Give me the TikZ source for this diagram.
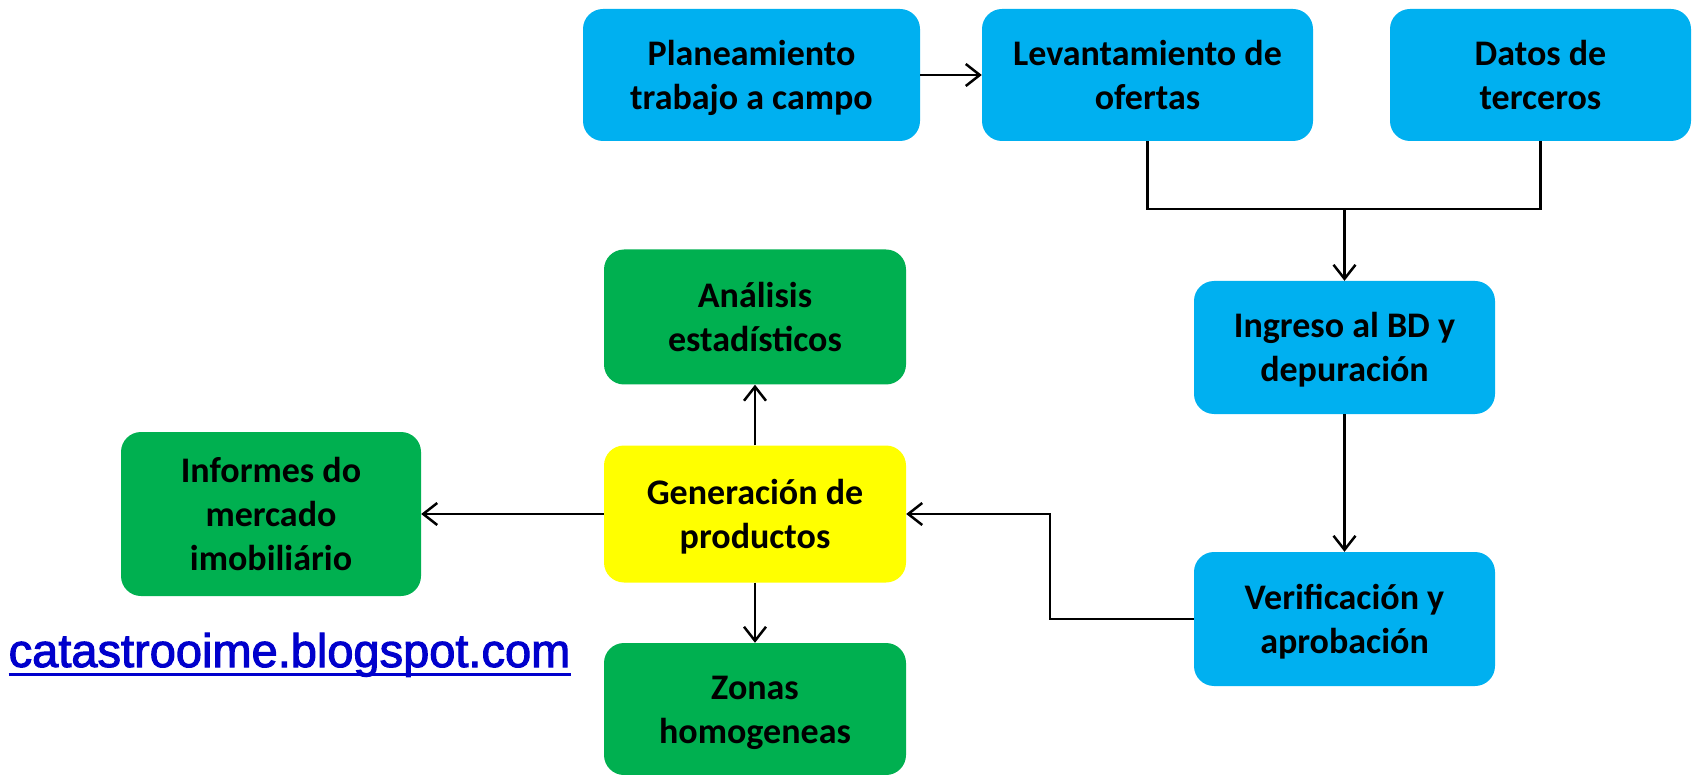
\documentclass[tikz,border=0pt]{standalone}
\usepackage{fontspec}
\setmainfont{Carlito}
\newfontfamily\urlfont[FakeBold=2.2]{Liberation Sans}
\usetikzlibrary{arrows.meta}
\definecolor{boxblue}{HTML}{00B0F0}
\definecolor{boxgreen}{HTML}{00B050}
\definecolor{boxyellow}{HTML}{FFFF00}
\definecolor{urlblue}{HTML}{0000CC}
% line strut: ascent 0.952em, descent 0.269em (Calibri line metrics)
\newcommand\ls{\rule[-9.7pt]{0pt}{44pt}}
\tikzset{
  stepbox/.style={rounded corners=20pt, inner sep=0pt, align=center, text=black,
    font=\bfseries\fontsize{36}{44}\selectfont},
  bluebox/.style={stepbox, fill=boxblue},
  greenbox/.style={stepbox, fill=boxgreen},
  yellowbox/.style={stepbox, fill=boxyellow},
  conn/.style={draw=black, line width=2.5pt},
  arr/.style={conn, -{Straight Barb[length=14pt,width=22pt]}},
}
\begin{document}
\begin{tikzpicture}[x=1pt,y=-1pt]
\useasboundingbox (0,0) rectangle (1692,775);
% top row
\node[bluebox, minimum width=337pt, minimum height=132pt] (plan) at (751.5,75) {\ls Planeamiento\\trabajo a campo\ls};
\node[bluebox, minimum width=331pt, minimum height=132pt] (lev) at (1147.5,75) {\ls Levantamiento de\\ofertas\ls};
\node[bluebox, minimum width=301pt, minimum height=132pt] (datos) at (1540.5,75) {\ls Datos de\\terceros\ls};
% right column
\node[bluebox, minimum width=301pt, minimum height=133pt] (ing) at (1344.5,347.5) {\ls Ingreso al BD y\\depuraci\'on\ls};
\node[bluebox, minimum width=301pt, minimum height=134pt] (ver) at (1344.5,619) {\ls Verificaci\'on y\\aprobaci\'on\ls};
% middle column
\node[greenbox, minimum width=302pt, minimum height=135pt] (anal) at (755,317) {\ls An\'alisis\\estad\'isticos\ls};
\node[yellowbox, minimum width=302pt, minimum height=137pt] (gen) at (755,514) {\ls Generaci\'on de\\productos\ls};
\node[greenbox, minimum width=302pt, minimum height=132pt] (zon) at (755,709) {\ls Zonas\\homogeneas\ls};
% left
\node[greenbox, minimum width=300pt, minimum height=164pt] (inf) at (271,514) {\ls Informes do\\mercado\\imobili\'ario\ls};
% url
\node[anchor=base west, inner sep=0pt, text=urlblue, font=\urlfont\fontsize{47}{56}\selectfont] (url) at (8.5,667) {catastrooime.blogspot.com};
\draw[urlblue, line width=3pt] ([yshift=-7pt]url.base west) -- ([yshift=-7pt]url.base east);
% connectors
\coordinate (j) at (1344.5,209);
\coordinate (k) at (1050,619);
\draw[arr] (plan) -- (lev);
\draw[conn] (lev.south) |- (j) -| (datos.south);
\draw[arr] (j) -- (ing);
\draw[arr] (ing) -- (ver);
\draw[arr] (ver.west) -- (k) |- (gen.east);
\draw[arr] (gen) -- (anal);
\draw[arr] (gen) -- (zon);
\draw[arr] (gen) -- (inf);
\end{tikzpicture}
\end{document}
